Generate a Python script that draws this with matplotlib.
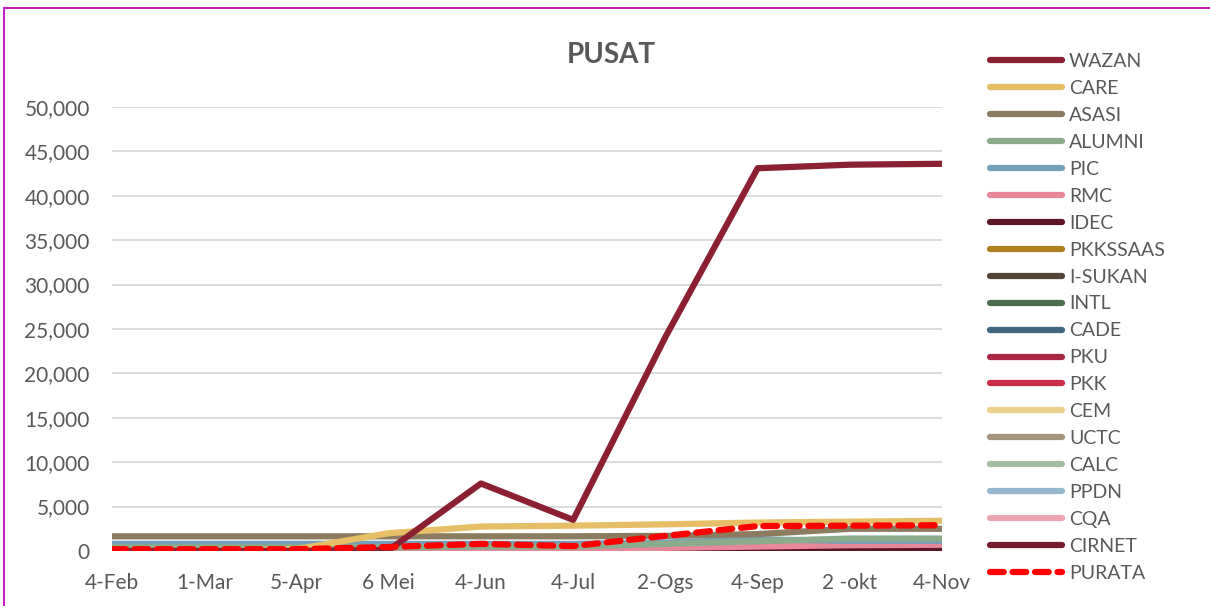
import numpy as np
import matplotlib.pyplot as plt
from matplotlib.patches import Rectangle

plt.rcParams['font.family'] = ['Lato', 'DejaVu Sans']

dates = ['4-Feb', '1-Mar', '5-Apr', '6 Mei', '4-Jun', '4-Jul', '2-Ogs', '4-Sep', '2 -okt', '4-Nov']

wazan = [0, 0, 0, 100, 7600, 3500, 24100, 43100, 43500, 43600]
care = [0, 0, 200, 2000, 2750, 2850, 3000, 3200, 3300, 3400]
asasi = [1650, 1650, 1650, 1650, 1650, 1650, 1700, 1900, 2500, 2500]
alumni = [400, 400, 400, 400, 500, 500, 800, 1100, 1400, 1400]
pic = [800, 800, 800, 800, 800, 800, 950, 1300, 1150, 1150]
rmc = [200, 200, 200, 200, 250, 250, 350, 500, 650, 700]
idec = [100, 100, 100, 100, 100, 100, 150, 200, 200, 200]
pkkssaas = [400, 400, 400, 400, 450, 450, 500, 550, 550, 550]
isukan = [150, 150, 150, 150, 200, 200, 250, 300, 350, 350]
intl = [200, 200, 200, 200, 250, 250, 300, 400, 450, 450]
cade = [100, 100, 100, 100, 150, 150, 200, 250, 300, 300]
pku = [100, 100, 100, 100, 100, 100, 150, 200, 250, 250]
pkk = [150, 150, 150, 150, 200, 200, 250, 350, 400, 400]
cem = [50, 50, 50, 50, 100, 100, 150, 200, 200, 200]
uctc = [100, 100, 100, 100, 150, 150, 200, 250, 300, 300]
calc = [150, 150, 150, 150, 200, 200, 300, 400, 450, 450]
ppdn = [100, 100, 100, 100, 150, 150, 200, 250, 250, 250]
cqa = [50, 50, 50, 50, 100, 100, 150, 200, 250, 250]
cirnet = [100, 100, 100, 100, 100, 100, 100, 100, 100, 100]
purata = [200, 200, 200, 450, 800, 550, 1700, 2800, 2850, 2900]

series = [
    ('WAZAN', wazan, '#8b2033'),
    ('CARE', care, '#e5be66'),
    ('ASASI', asasi, '#8b7b5f'),
    ('ALUMNI', alumni, '#8aac8a'),
    ('PIC', pic, '#739fbb'),
    ('RMC', rmc, '#e6879a'),
    ('IDEC', idec, '#5c1525'),
    ('PKKSSAAS', pkkssaas, '#b08020'),
    ('I-SUKAN', isukan, '#504536'),
    ('INTL', intl, '#4d6e4e'),
    ('CADE', cade, '#3f6580'),
    ('PKU', pku, '#a82845'),
    ('PKK', pkk, '#cc2e4a'),
    ('CEM', cem, '#edd08c'),
    ('UCTC', uctc, '#a4957b'),
    ('CALC', calc, '#a3bda3'),
    ('PPDN', ppdn, '#95b8cf'),
    ('CQA', cqa, '#eca4b3'),
    ('CIRNET', cirnet, '#761b2d'),
]

fig = plt.figure(figsize=(12.1, 6.06), dpi=100)
ax = fig.add_axes([0.0926, 0.0908, 0.686, 0.7327])
x = np.arange(len(dates))

# draw in reverse so WAZAN ends on top, like Excel
handles = {}
for name, vals, col in reversed(series):
    ln, = ax.plot(x, vals, color=col, lw=4.5, solid_capstyle='round', label=name)
    handles[name] = ln
pur, = ax.plot(x, purata, color='#ff0000', lw=4.5, ls=(0, (2.2, 1.4)),
               dash_capstyle='round', label='PURATA')

ax.set_xlim(0, 9)
ax.set_ylim(0, 50000)
ax.set_yticks(np.arange(0, 50001, 5000))
ax.set_yticklabels([f'{v:,}' for v in range(0, 50001, 5000)])
ax.set_xticks(x)
ax.set_xticklabels(dates)
ax.grid(axis='y', color='#d9d9d9', lw=1.3)
ax.set_axisbelow(True)
for s in ax.spines.values():
    s.set_visible(False)
ax.tick_params(length=0, labelsize=15, colors='#595959')
ax.tick_params(axis='x', pad=16)
ax.tick_params(axis='y', pad=16)

fig.text(0.505, 0.91, 'PUSAT', ha='center', va='center', fontsize=20,
         fontweight='bold', color='#595959')

order = [handles[n] for n, _, _ in series] + [pur]
fig.legend(handles=order, labels=[n for n, _, _ in series] + ['PURATA'],
           loc='upper left', bbox_to_anchor=(0.812, 0.925), frameon=False,
           fontsize=14, labelcolor='#595959', handlelength=3.7,
           handletextpad=0.35, labelspacing=0.51, borderaxespad=0)

fig.patches.append(Rectangle((4 / 1210, -0.1), 1.2, 1 - 8 / 606 + 0.1,
                             transform=fig.transFigure, fill=False,
                             edgecolor='#c020c0', lw=1.5))

fig.savefig('out.png', dpi=100)
